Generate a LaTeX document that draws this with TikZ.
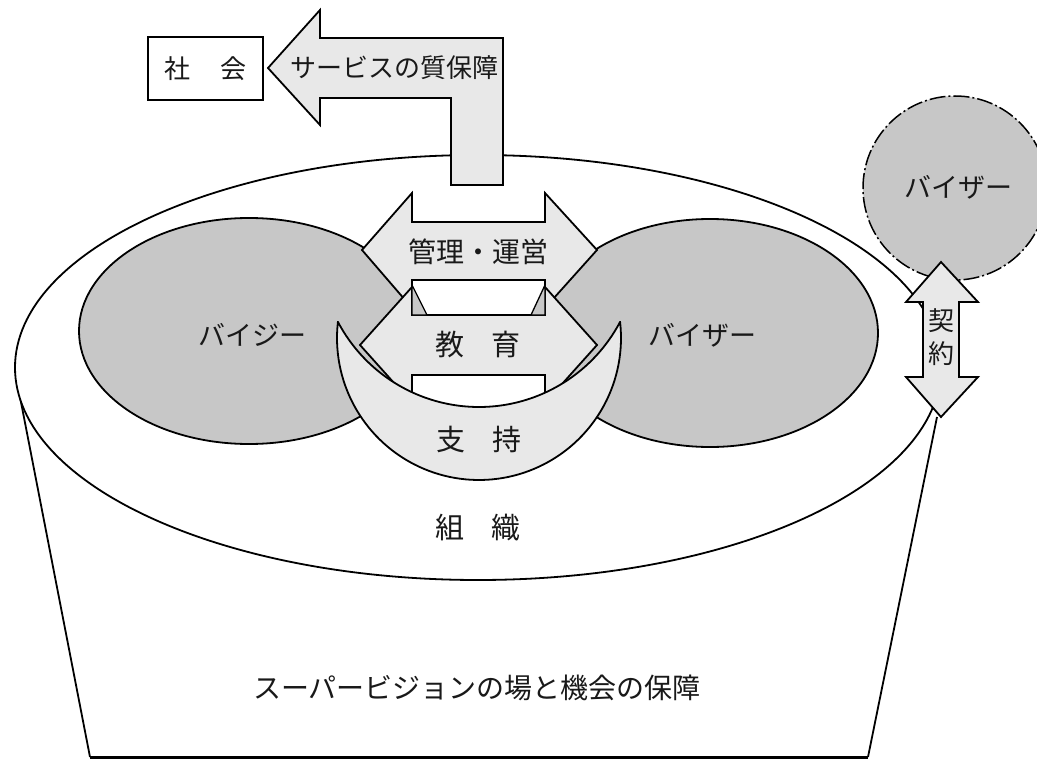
\documentclass[tikz,border=0pt]{standalone}
\usepackage{fontspec}
\setmainfont{Noto Sans CJK JP}
\definecolor{ellgrey}{gray}{0.78}
\definecolor{lightfill}{gray}{0.91}
\tikzset{
  outl/.style={draw=black, line width=1.8pt, line join=miter},
  arrowshape/.style={outl, fill=lightfill},
  greyshape/.style={outl, fill=ellgrey},
  lbl/.style={inner sep=0pt, text=black!90},
}
\newcommand{\fs}[1]{\fontsize{#1}{#1}\selectfont}
\begin{document}
\begin{tikzpicture}[x=1pt, y=-1pt]
\useasboundingbox (0,0) rectangle (1037,760);
\fill[white] (0,0) rectangle (1037,760);

% cylinder body
\draw[outl] (20,397) -- (90,757);
\draw[outl] (937,417) -- (868,757);
\draw[draw=black, line width=3pt] (90,757) -- (868,757);

% rim ellipse (organisation)
\draw[outl, fill=white] (478,367.5) ellipse[x radius=463, y radius=212.5];

% supervisee / supervisor ellipses
\draw[greyshape] (249,331) ellipse[x radius=170, y radius=113];
\draw[greyshape] (710,333) ellipse[x radius=168, y radius=114];

% outside supervisor (dashed circle)
\draw[fill=ellgrey, draw=black, line width=1.5pt, dash pattern=on 16pt off 3pt on 2pt off 3pt] (955,188) circle[radius=92];

% management double arrow
\draw[arrowshape] (362,250) -- (412,193) -- (412,222) -- (545,222) -- (545,193) -- (597,250)
  -- (545,308) -- (545,280) -- (412,280) -- (412,308) -- cycle;
% education double arrow
\draw[arrowshape] (360,345) -- (412,287) -- (412,315) -- (545,315) -- (545,287) -- (597,345)
  -- (545,403) -- (545,375) -- (412,375) -- (412,403) -- cycle;
% small grey triangles
\draw[greyshape, line width=1.3pt] (412,285) -- (412,315) -- (427,315) -- cycle;
\draw[greyshape, line width=1.3pt] (545,285) -- (545,315) -- (531,315) -- cycle;

% support crescent
\draw[arrowshape] plot[domain=186.47:-6.47, samples=90] ({479+142*cos(\x)},{338+142*sin(\x)})
  -- plot[domain=27.85:152.15, samples=90] ({479+159.5*cos(\x)},{247.5+159.5*sin(\x)}) -- cycle;

% L-shaped arrow to society
\draw[arrowshape] (268,68) -- (320,10) -- (320,38) -- (503,38) -- (503,185) -- (451,185)
  -- (451,98) -- (320,98) -- (320,125) -- cycle;
\node[outl, fill=white, minimum width=115pt, minimum height=63pt, inner sep=0pt] (shakai) at (205.5,68.5) {};
\node[lbl, font=\fs{26}] (shakaitxt) at (shakai.center) {社\hspace{31pt}会};

% contract arrow
\draw[arrowshape] (941,262) -- (978,302) -- (959,302) -- (959,377) -- (978,377) -- (941,417)
  -- (906,377) -- (923,377) -- (923,302) -- (906,302) -- cycle;

% labels
\node[lbl, font=\fs{26}] (service) at (394,68) {サービスの質保障};
\node[lbl, font=\fs{28}] (kanri) at (478,252) {管理・運営};
\node[lbl, font=\fs{29}] (kyoiku) at (478,345) {教\hspace{27pt}育};
\node[lbl, font=\fs{29}] (shiji) at (479,440) {支\hspace{27pt}持};
\node[lbl, font=\fs{29}] (soshiki) at (478,528) {組\hspace{27pt}織};
\node[lbl, font=\fs{27}] (baiji) at (252,335) {バイジー};
\node[lbl, font=\fs{27}] (baiza) at (702,335) {バイザー};
\node[lbl, font=\fs{27}] (baiza2) at (958,187) {バイザー};
\node[lbl, align=center, font=\fontsize{26}{33}\selectfont] (keiyaku) at (941,337) {契\\約};
\node[lbl, font=\fs{28}] (bottom) at (477,688) {スーパービジョンの場と機会の保障};
\end{tikzpicture}
\end{document}
